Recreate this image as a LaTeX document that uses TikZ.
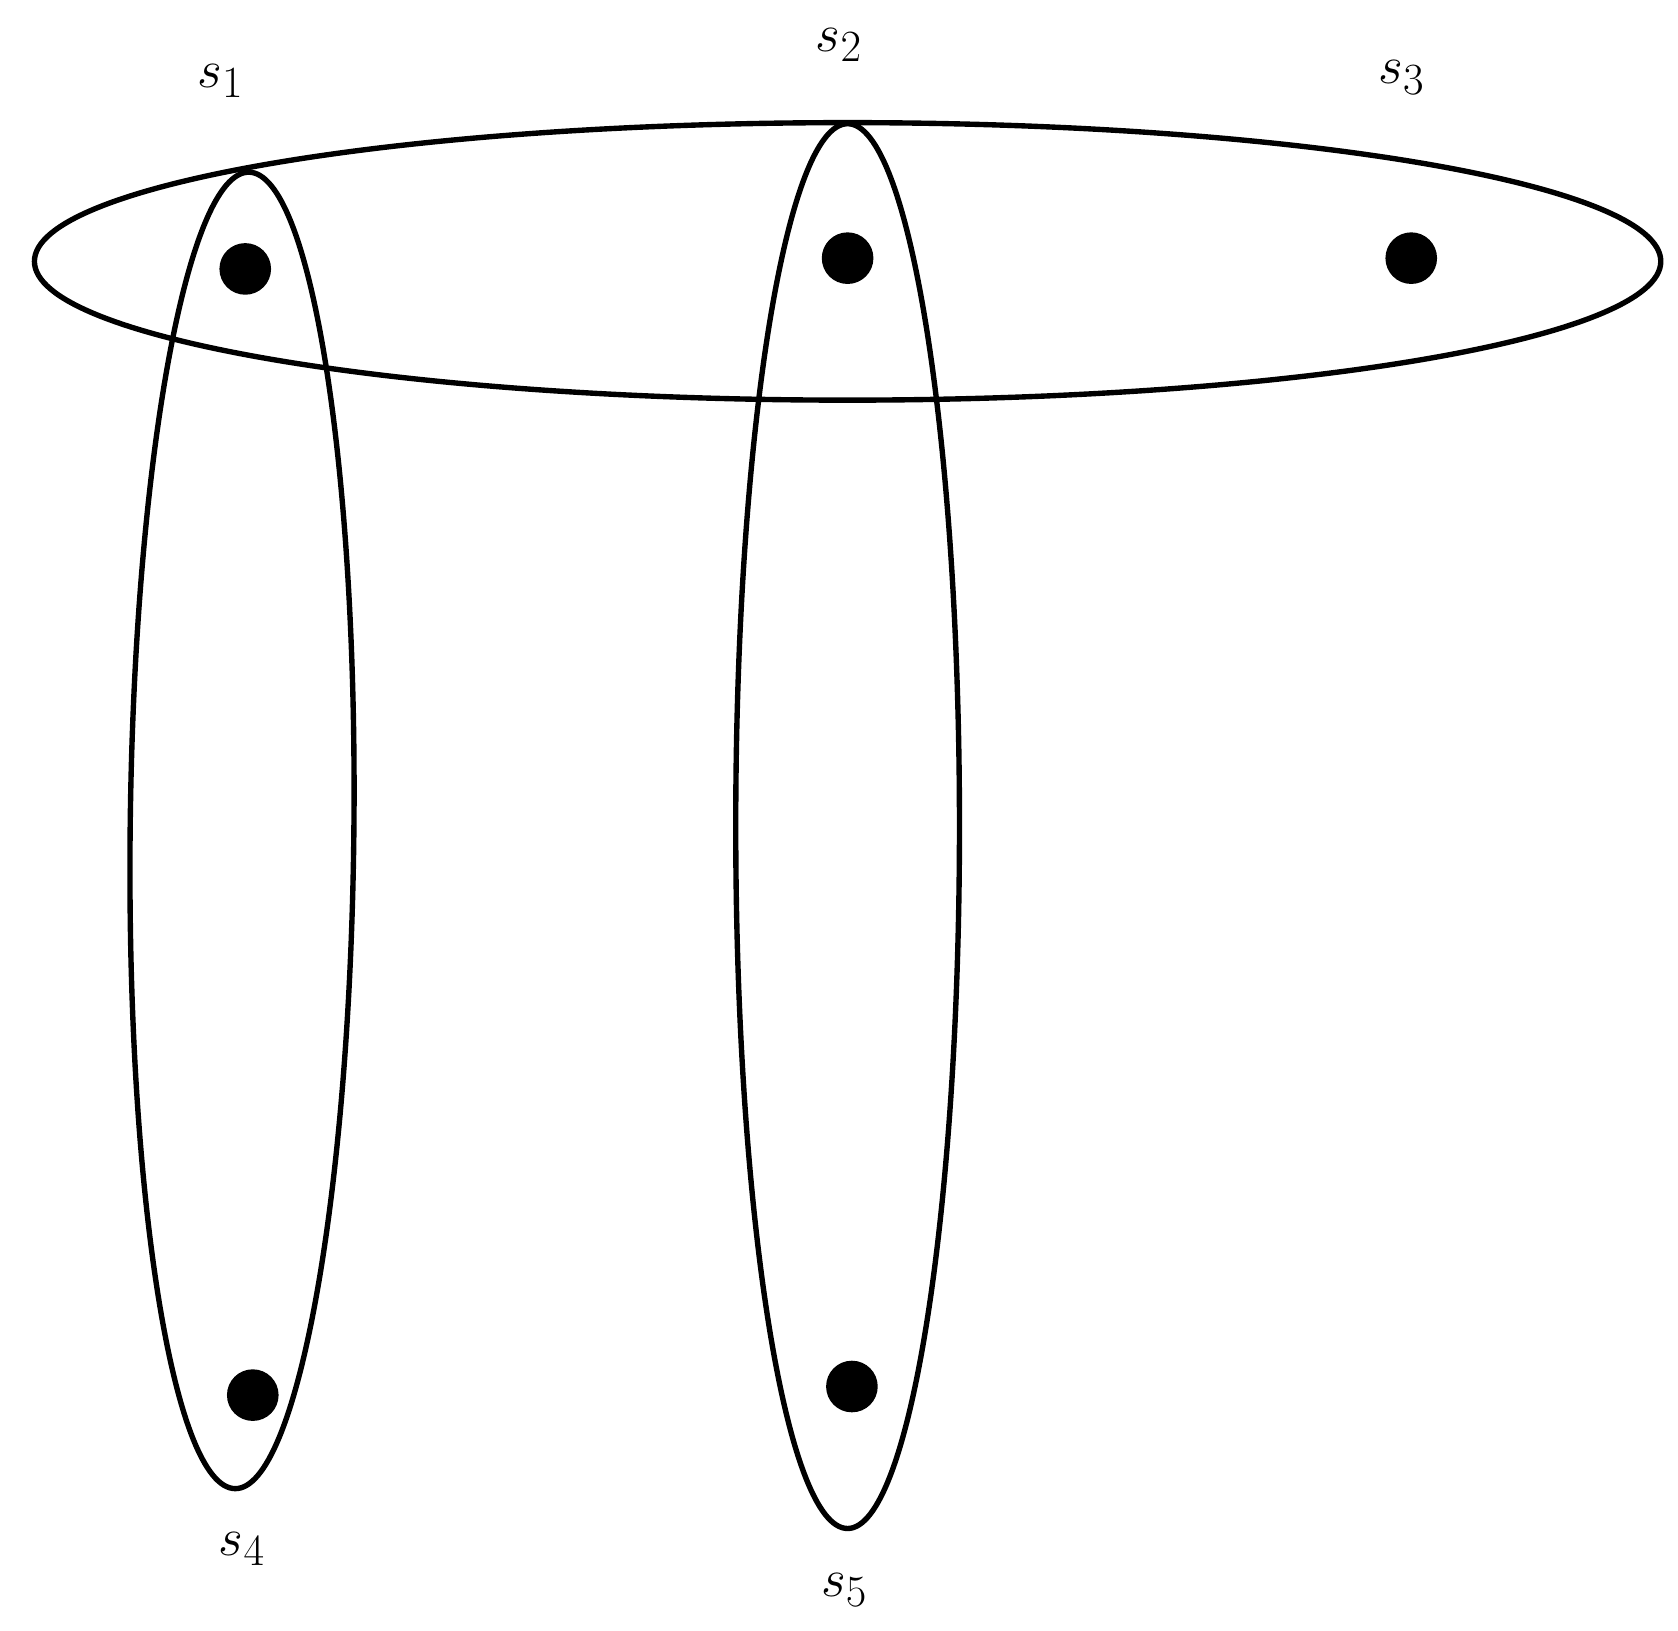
\documentclass[tikz,border=0pt]{standalone}
\begin{document}
\begin{tikzpicture}[x=0.5pt,y=-0.5pt,line width=2.5pt,
  dot/.style={circle,fill=black,inner sep=0pt,minimum size=24pt},
  lab/.style={font=\fontsize{32}{38}\selectfont}]
\useasboundingbox (0,0) rectangle (1560,1516);
\draw (788,243) ellipse [x radius=756,y radius=129];
\draw[rotate around={-0.6:(225,772)}] (225,772) ellipse [x radius=104,y radius=612];
\draw (788,768) ellipse [x radius=104,y radius=653];
\node[dot] (d1) at (228,250) {};
\node[dot] (d2) at (788,240) {};
\node[dot] (d3) at (1312,240) {};
\node[dot] (d4) at (235,1297) {};
\node[dot] (d5) at (792,1289) {};
\node[lab] (l1) at (205,75) {$s_1$};
\node[lab] (l2) at (780,42) {$s_2$};
\node[lab] (l3) at (1303,72) {$s_3$};
\node[lab] (l4) at (225,1440) {$s_4$};
\node[lab] (l5) at (785,1478) {$s_5$};
\end{tikzpicture}
\end{document}
